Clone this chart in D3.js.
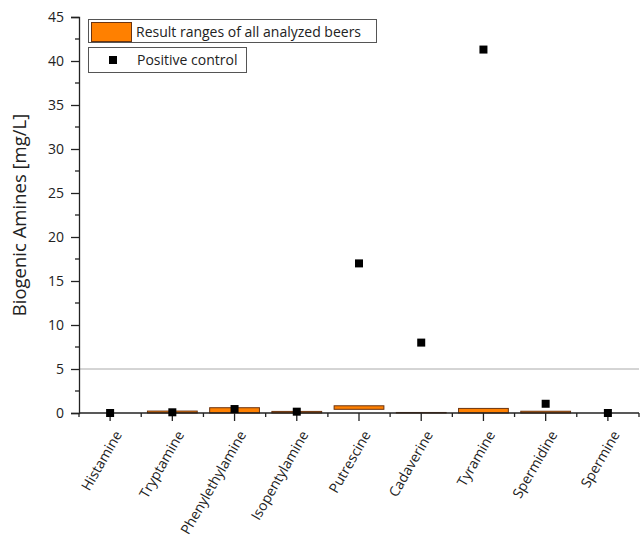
<!DOCTYPE html>
<html>
<head>
<meta charset="utf-8">
<script src="https://cdn.jsdelivr.net/npm/d3@7"></script>
<style>
  body { margin: 0; background: #fff; }
  text { font-family: "Open Sans", "Noto Sans", sans-serif; fill: #222; }
</style>
</head>
<body>
<div id="chart"></div>
<script>
// amines and values (mg/L)
var categories = ["Histamine", "Tryptamine", "Phenylethylamine", "Isopentylamine",
    "Putrescine", "Cadaverine", "Tyramine", "Spermidine", "Spermine"];
var rangeLow  = [0, 0, 0, 0, 0.42, 0, 0, 0, 0];
var rangeHigh = [0, 0.22, 0.6, 0.18, 0.82, 0.06, 0.52, 0.2, 0];
var control   = [0, 0.08, 0.45, 0.15, 17, 8, 41.3, 1.05, 0];
var yTicks = [0, 5, 10, 15, 20, 25, 30, 35, 40, 45];
var refLine = 5;

var width = 643, height = 541;
var margin = {top: 17, right: 4, bottom: 128, left: 79};

var svg = d3.select("#chart").append("svg")
    .attr("width", width)
    .attr("height", height);

var x = d3.scaleBand()
    .domain(categories)
    .range([margin.left, width - margin.right])
    .padding(0);

var y = d3.scaleLinear()
    .domain([0, 45])
    .range([height - margin.bottom, margin.top]);

var step = x.step();

// reference line at 5 mg/L
svg.append("line")
    .attr("x1", margin.left).attr("x2", width - margin.right)
    .attr("y1", y(refLine)).attr("y2", y(refLine))
    .style("stroke", "#aaa")
    .style("stroke-width", 1);

// range bars
svg.selectAll(".range")
    .data(categories)
    .enter().append("rect")
    .attr("class", "range")
    .attr("x", function(d) { return x(d) + step * 0.1; })
    .attr("width", step * 0.8)
    .attr("y", function(d, i) { return y(rangeHigh[i]); })
    .attr("height", function(d, i) { return Math.max(0, y(rangeLow[i]) - y(rangeHigh[i])); })
    .style("fill", "#ff8000")
    .style("stroke", "#6b3410")
    .style("stroke-width", 1)
    .style("display", function(d, i) { return rangeHigh[i] > rangeLow[i] ? null : "none"; });

// y axis
var yAxis = d3.axisLeft(y).tickValues(yTicks).tickSize(8).tickPadding(7);
var gy = svg.append("g")
    .attr("transform", "translate(" + margin.left + ",0)")
    .call(yAxis);
gy.select(".domain").style("stroke", "#222").style("stroke-width", 1.3);
gy.selectAll(".tick line").style("stroke", "#222").style("stroke-width", 1.3);
gy.selectAll(".tick text").style("font-size", "14px");

// y minor ticks
var yMinor = d3.range(2.5, 45, 5);
svg.selectAll(".yminor")
    .data(yMinor)
    .enter().append("line")
    .attr("x1", margin.left - 4).attr("x2", margin.left)
    .attr("y1", function(d) { return y(d); })
    .attr("y2", function(d) { return y(d); })
    .style("stroke", "#222").style("stroke-width", 1.3);

// x axis
var gx = svg.append("g")
    .attr("transform", "translate(0," + y(0) + ")");
gx.append("line")
    .attr("x1", margin.left).attr("x2", width - margin.right)
    .style("stroke", "#222").style("stroke-width", 1.5);

gx.selectAll(".xmajor")
    .data(categories)
    .enter().append("line")
    .attr("x1", function(d) { return x(d) + step / 2; })
    .attr("x2", function(d) { return x(d) + step / 2; })
    .attr("y1", 0).attr("y2", 8)
    .style("stroke", "#222").style("stroke-width", 1.3);

gx.selectAll(".xminor")
    .data(d3.range(categories.length + 1))
    .enter().append("line")
    .attr("x1", function(i) { return margin.left + i * step; })
    .attr("x2", function(i) { return margin.left + i * step; })
    .attr("y1", 0).attr("y2", 4)
    .style("stroke", "#222").style("stroke-width", 1.3);

gx.selectAll(".xlabel")
    .data(categories)
    .enter().append("text")
    .attr("text-anchor", "end")
    .attr("transform", function(d) {
        return "translate(" + (x(d) + step / 2 + 8) + ",19) rotate(-60)";
    })
    .attr("dy", "0.35em")
    .style("font-size", "14px")
    .text(function(d) { return d; });

// positive control points
svg.selectAll(".ctrl")
    .data(categories)
    .enter().append("rect")
    .attr("class", "ctrl")
    .attr("x", function(d) { return x(d) + step / 2 - 4; })
    .attr("y", function(d, i) { return y(control[i]) - 4; })
    .attr("width", 8).attr("height", 8)
    .style("fill", "#000");

// y axis title
svg.append("text")
    .attr("transform", "translate(26," + ((margin.top + y(0)) / 2) + ") rotate(-90)")
    .attr("text-anchor", "middle")
    .style("font-size", "18.5px")
    .text("Biogenic Amines [mg/L]");

// legend
var lg = svg.append("g");
lg.append("rect")
    .attr("x", 88.5).attr("y", 19.5).attr("width", 288).attr("height", 23)
    .style("fill", "#fff").style("stroke", "#555").style("stroke-width", 1);
lg.append("rect")
    .attr("x", 91.5).attr("y", 22.5).attr("width", 40).attr("height", 19)
    .style("fill", "#ff8000").style("stroke", "#6b3410").style("stroke-width", 1);
lg.append("text")
    .attr("x", 136).attr("y", 32).attr("dy", "0.35em")
    .style("font-size", "14px")
    .text("Result ranges of all analyzed beers");
lg.append("rect")
    .attr("x", 88.5).attr("y", 47.5).attr("width", 158).attr("height", 25)
    .style("fill", "#fff").style("stroke", "#555").style("stroke-width", 1);
lg.append("rect")
    .attr("x", 109).attr("y", 56).attr("width", 8).attr("height", 8)
    .style("fill", "#000");
lg.append("text")
    .attr("x", 137).attr("y", 60).attr("dy", "0.35em")
    .style("font-size", "14px")
    .text("Positive control");
</script>
</body>
</html>
